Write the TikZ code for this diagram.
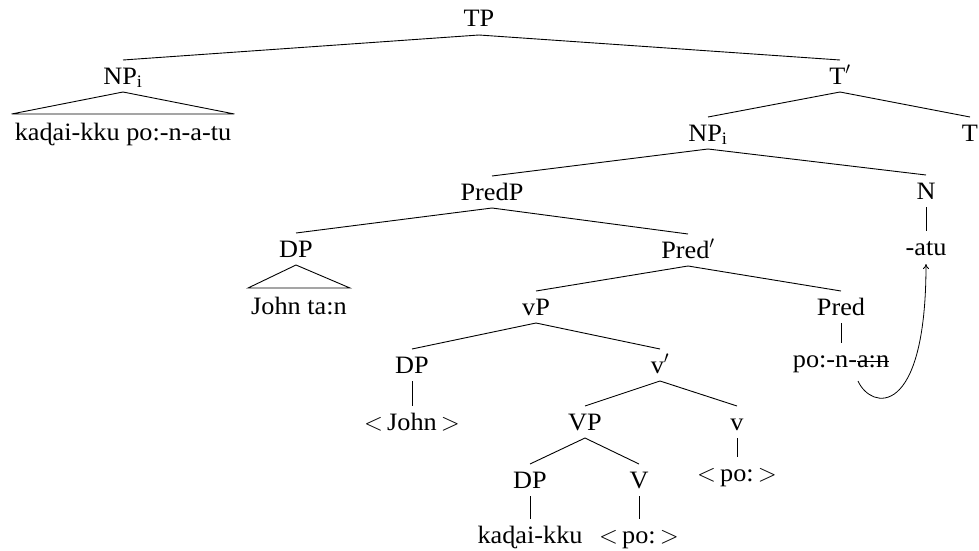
\documentclass[tikz,border=0pt]{standalone}
\usepackage{fontspec}
\setmainfont[FakeStretch=1.05]{Liberation Serif}
\usetikzlibrary{arrows.meta}

% branch from the bottom of a parent label to the top of a daughter label
\newcommand\branchline[2]{\draw[branch] ([yshift=-8pt]#1.base) -- ([yshift=24pt]#2.base);}
% roof (triangle) over an unanalysed constituent
\newcommand\roofline[2]{\draw[branch] ([yshift=-8pt]#1.base) -- ([yshift=26pt]#2.base west) -- ([yshift=26pt]#2.base east) -- cycle;}
% struck-through text
\newcommand\struck[1]{\begingroup\setbox0\hbox{#1}\rlap{\rule[0.23em]{\wd0}{0.6pt}}\box0\endgroup}

\begin{document}
\begin{tikzpicture}[x=1pt,y=-1pt,
  lbl/.style={anchor=base, inner xsep=3pt, inner ysep=0pt,
              text height=16pt, text depth=0pt,
              font=\fontsize{25}{29}\selectfont},
  branch/.style={line width=0.9pt},
  movement/.style={line width=0.8pt, -{To[length=5pt,width=6pt]}}]
\useasboundingbox (0,0) rectangle (979,551);

% labels, placed by their baselines
\node[lbl] (tp)     at (479,27)  {TP};
\node[lbl] (npl)    at (123,84)  {NP\textsubscript{i}};
\node[lbl] (tbar)   at (840,84)  {T$'$};
\node[lbl] (roofl)  at (123,140) {kaɖai-kku po:-n-a-tu};
\node[lbl] (npr)    at (708,141) {NP\textsubscript{i}};
\node[lbl] (t)      at (970,141) {T};
\node[lbl] (predp)  at (492,200) {PredP};
\node[lbl] (n)      at (926,199) {N};
\node[lbl] (atu)    at (926,255) {-atu};
\node[lbl] (dpl)    at (296,257) {DP};
\node[lbl] (predb)  at (688,258) {Pred$'$};
\node[lbl] (johnt)  at (299,314) {John ta:n};
\node[lbl] (vp)     at (536,315) {vP};
\node[lbl] (pred)   at (841,315) {Pred};
\node[lbl] (pona)   at (841,367) {po:-n-\struck{a:n}};
\node[lbl] (dpv)    at (412,373) {DP};
\node[lbl] (vbar)   at (660,373) {v$'$};
\node[lbl] (john)   at (412,430) {$<$\,John\,$>$};
\node[lbl] (bigvp)  at (585,430) {VP};
\node[lbl] (v)      at (737,430) {v};
\node[lbl] (pov)    at (737,481) {$<$\,po:\,$>$};
\node[lbl] (dpo)    at (530,488) {DP};
\node[lbl] (bigv)   at (639,488) {V};
\node[lbl] (kadai)  at (530,543) {kaɖai-kku};
\node[lbl] (poV)    at (639,543) {$<$\,po:\,$>$};

% branches
\branchline{tp}{npl}
\branchline{tp}{tbar}
\roofline{npl}{roofl}
\branchline{tbar}{npr}
\branchline{tbar}{t}
\branchline{npr}{predp}
\branchline{npr}{n}
\branchline{n}{atu}
\branchline{predp}{dpl}
\branchline{predp}{predb}
\roofline{dpl}{johnt}
\branchline{predb}{vp}
\branchline{predb}{pred}
\branchline{pred}{pona}
\branchline{vp}{dpv}
\branchline{vp}{vbar}
\branchline{dpv}{john}
\branchline{vbar}{bigvp}
\branchline{vbar}{v}
\branchline{v}{pov}
\branchline{bigvp}{dpo}
\branchline{bigvp}{bigv}
\branchline{dpo}{kadai}
\branchline{bigv}{poV}

% head movement of the suffix up to N
\draw[movement] ([xshift=17pt,yshift=-14pt]pona.base)
  .. controls +(13,29) and +(0,156) .. ([yshift=-9pt]atu.base);
\end{tikzpicture}
\end{document}
